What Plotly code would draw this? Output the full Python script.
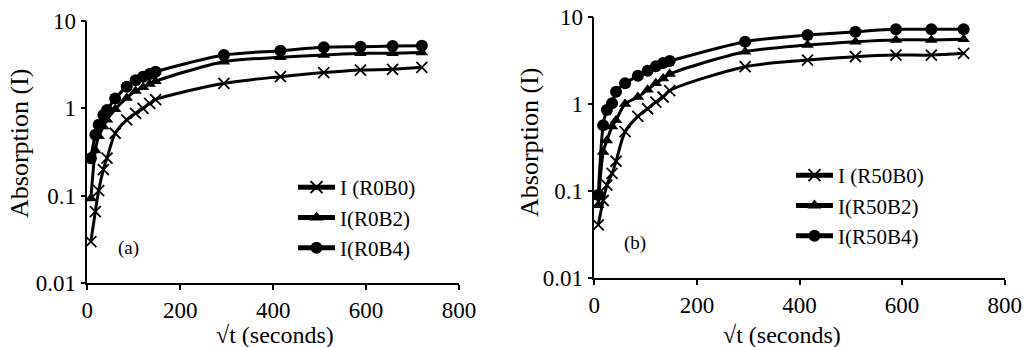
import plotly.graph_objects as go
from plotly.subplots import make_subplots

# sqrt(t) in seconds^0.5
sqrt_t = [7.7, 17.3, 24.5, 34.6, 42.4, 60, 84.9, 103.9, 120, 134.2, 147, 294, 415.7, 509, 588, 657, 720]

# Panel (a)
r0b0 = [0.03, 0.066, 0.115, 0.2, 0.27, 0.52, 0.74, 0.88, 1.0, 1.14, 1.26, 1.94, 2.31, 2.57, 2.75, 2.8, 2.95]
r0b2 = [0.093, 0.33, 0.48, 0.62, 0.74, 0.98, 1.32, 1.58, 1.75, 1.9, 2.05, 3.42, 3.85, 4.08, 4.27, 4.27, 4.35]
r0b4 = [0.27, 0.5, 0.65, 0.84, 0.96, 1.3, 1.77, 2.1, 2.3, 2.48, 2.63, 4.08, 4.57, 5.0, 5.08, 5.17, 5.2]

# Panel (b)
r50b0 = [0.041, 0.078, 0.117, 0.16, 0.22, 0.48, 0.72, 0.88, 1.05, 1.2, 1.42, 2.67, 3.18, 3.48, 3.63, 3.63, 3.8]
r50b2 = [0.069, 0.28, 0.38, 0.55, 0.65, 1.0, 1.2, 1.45, 1.72, 1.96, 2.2, 3.97, 4.73, 5.17, 5.42, 5.42, 5.5]
r50b4 = [0.09, 0.57, 0.85, 1.02, 1.38, 1.72, 2.1, 2.4, 2.7, 2.95, 3.1, 5.17, 6.17, 6.73, 7.16, 7.16, 7.2]

names_a = ["I (R0B0)", "I(R0B2)", "I(R0B4)"]
names_b = ["I (R50B0)", "I(R50B2)", "I(R50B4)"]

x_ticks = [0, 200, 400, 600, 800]
y_ticks = [0.01, 0.1, 1, 10]
y_ticktext = ["0.01", "0.1", "1", "10"]

x_title = "√t (seconds)"
y_title = "Absorption (I)"

FONT = "Liberation Serif"

fig = make_subplots(rows=1, cols=2)

def marker_for(kind):
    if kind == 0:
        return dict(symbol="x-thin", size=11, color="black", line=dict(color="black", width=1.8))
    if kind == 1:
        return dict(symbol="triangle-up", size=11, color="black")
    return dict(symbol="circle", size=12, color="black")

for i, (ys, nm) in enumerate(zip([r0b0, r0b2, r0b4], names_a)):
    fig.add_trace(go.Scatter(x=sqrt_t, y=ys, name=nm, mode="lines+markers",
                             line=dict(color="black", width=3, shape="spline", smoothing=0.8),
                             marker=marker_for(i), cliponaxis=False, legend="legend"),
                  row=1, col=1)
for i, (ys, nm) in enumerate(zip([r50b0, r50b2, r50b4], names_b)):
    fig.add_trace(go.Scatter(x=sqrt_t, y=ys, name=nm, mode="lines+markers",
                             line=dict(color="black", width=3, shape="spline", smoothing=0.8),
                             marker=marker_for(i), cliponaxis=False, legend="legend2"),
                  row=1, col=2)

W, H = 1026, 347
xa_dom = [87.3 / W, 459 / W]
xb_dom = [594.3 / W, 1004.7 / W]
ya_dom = [(H - 283.3) / H, (H - 21) / H]
yb_dom = [(H - 278.3) / H, (H - 16.7) / H]

common_x = dict(range=[0, 800], tickvals=x_ticks, ticks="outside", ticklen=5, tickwidth=1.5,
                tickcolor="black", showline=True, linecolor="black", linewidth=1.5,
                showgrid=False, zeroline=False, automargin=False,
                tickfont=dict(family=FONT, size=23, color="black"))
common_y = dict(type="log", range=[-2, 1], tickvals=y_ticks, ticktext=y_ticktext, ticks="outside",
                ticklen=5, tickwidth=1.5, tickcolor="black", showline=True, linecolor="black",
                linewidth=1.5, showgrid=False, zeroline=False, automargin=False,
                tickfont=dict(family=FONT, size=23, color="black"))

fig.update_xaxes(domain=xa_dom, row=1, col=1, **common_x)
fig.update_xaxes(domain=xb_dom, row=1, col=2, **common_x)
fig.update_yaxes(domain=ya_dom, row=1, col=1, **common_y)
fig.update_yaxes(domain=yb_dom, row=1, col=2, **common_y)

def px_x(p):
    return p / W

def px_y(p):
    return (H - p) / H

title_font = dict(family=FONT, size=24, color="black")
annotations = [
    dict(text=x_title, x=px_x(275), y=px_y(334.5), font=title_font),
    dict(text=x_title, x=px_x(782), y=px_y(334.5), font=title_font),
    dict(text=y_title, x=px_x(20), y=px_y(144), textangle=-90, font=dict(family=FONT, size=26, color="black")),
    dict(text=y_title, x=px_x(529), y=px_y(143), textangle=-90, font=dict(family=FONT, size=26, color="black")),
    dict(text="(a)", x=px_x(128), y=px_y(248), font=dict(family=FONT, size=19, color="black")),
    dict(text="(b)", x=px_x(635), y=px_y(243), font=dict(family=FONT, size=19, color="black")),
]
for a in annotations:
    a.update(xref="paper", yref="paper", showarrow=False, xanchor="center", yanchor="middle")

legend_style = dict(font=dict(family=FONT, size=21, color="black"), bgcolor="rgba(0,0,0,0)",
                    xanchor="left", yanchor="top", tracegroupgap=0, itemsizing="constant",
                    itemwidth=37)
fig.update_layout(
    template="none",
    width=W, height=H,
    margin=dict(l=0, r=0, t=0, b=0),
    font=dict(family=FONT, color="black"),
    plot_bgcolor="white", paper_bgcolor="white",
    legend=dict(x=px_x(293), y=px_y(167), **legend_style),
    legend2=dict(x=px_x(791), y=px_y(155), **legend_style),
    annotations=annotations,
)

fig.write_html("out.html", config={"displayModeBar": False},
               post_script="document.body.style.margin='0px';document.body.style.overflow='hidden';")
